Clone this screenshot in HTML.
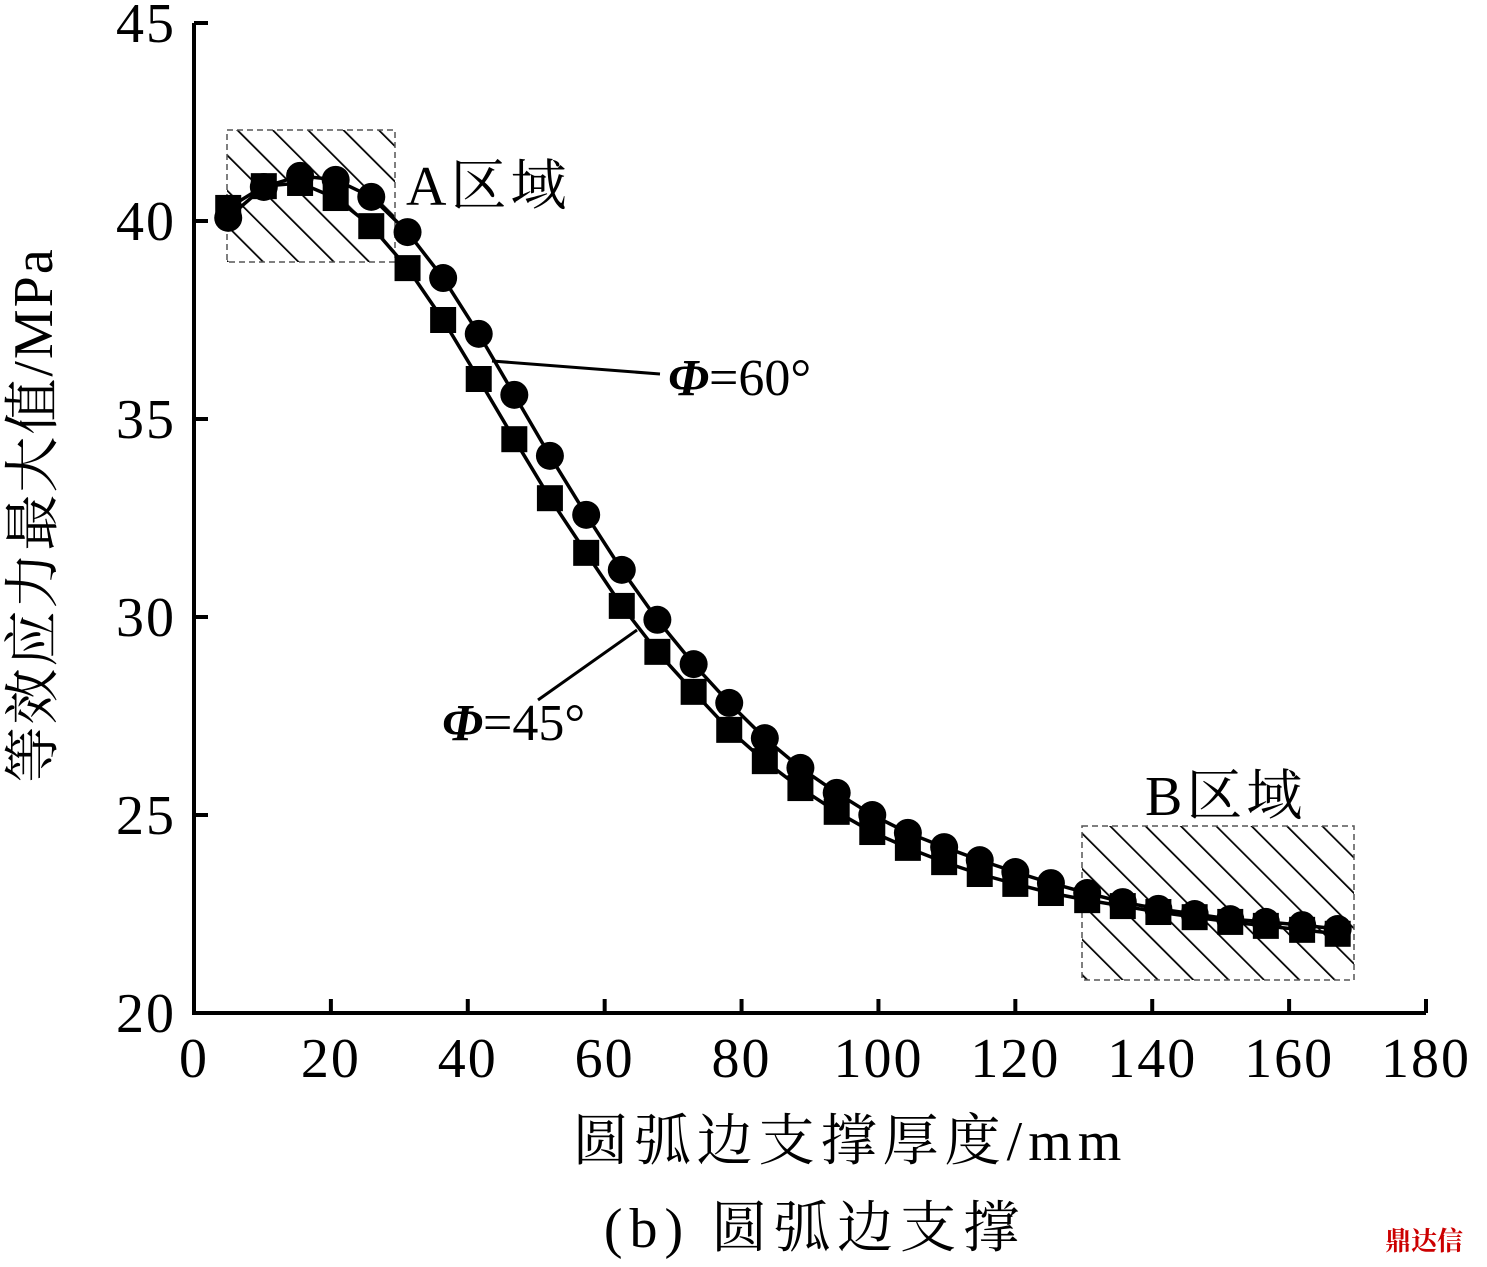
<!DOCTYPE html>
<html><head><meta charset="utf-8"><style>
body{margin:0;background:#fff}
svg text{font-family:"Liberation Serif","Noto Serif CJK SC",serif;fill:#000}
</style></head><body>
<svg id="c" width="1487" height="1262" viewBox="0 0 1487 1262">
<defs>
<pattern id="hatch" patternUnits="userSpaceOnUse" width="25" height="25" patternTransform="rotate(-45)">
<line x1="0" y1="0" x2="0" y2="25" stroke="#000" stroke-width="3.5"/>
</pattern>
</defs>
<g id="regions"></g>
<g id="axes"></g>
<g id="series"></g>
<text x="406" y="205" font-size="56" letter-spacing="4">A区域</text>
<text x="1145" y="815" font-size="56" letter-spacing="4">B区域</text>
<line x1="492" y1="361" x2="660" y2="374" stroke="#000" stroke-width="3"/>
<text x="668" y="395" font-size="52"><tspan font-style="italic" font-weight="bold">Φ</tspan>=60°</text>
<line x1="637" y1="630" x2="538" y2="700" stroke="#000" stroke-width="3"/>
<text x="442" y="740" font-size="52"><tspan font-style="italic" font-weight="bold">Φ</tspan>=45°</text>
<text x="850" y="1160" font-size="56" letter-spacing="6" text-anchor="middle">圆弧边支撑厚度/mm</text>
<text x="815" y="1247" font-size="56" letter-spacing="7" text-anchor="middle">(b) 圆弧边支撑</text>
<text transform="translate(52,515) rotate(-90)" font-size="56" letter-spacing="2" text-anchor="middle">等效应力最大值/MPa</text>
<text x="1385" y="1250" font-size="26" style="fill:#c00" font-weight="bold">鼎达信</text>
</svg>
<script>
const xs=[5,10.2,15.5,20.7,25.9,31.2,36.4,41.6,46.8,52.0,57.3,62.5,67.7,73.0,78.2,83.4,88.6,93.9,99.1,104.3,109.6,114.8,120.0,125.2,130.5,135.7,140.9,146.2,151.4,156.6,161.9,167.1];
const phi60=[40.08,40.86,41.14,41.04,40.61,39.72,38.56,37.15,35.61,34.07,32.58,31.19,29.93,28.81,27.83,26.94,26.19,25.56,25.0,24.55,24.19,23.86,23.56,23.28,23.03,22.80,22.63,22.5,22.37,22.3,22.22,22.12];
const phi45=[40.33,40.88,40.96,40.58,39.87,38.81,37.5,36.01,34.49,33.0,31.62,30.28,29.12,28.11,27.15,26.36,25.68,25.08,24.57,24.17,23.81,23.51,23.26,23.03,22.85,22.70,22.55,22.42,22.3,22.2,22.1,22.0];
const xTicks=[0,20,40,60,80,100,120,140,160,180];
const yTicks=[20,25,30,35,40,45];
const X=v=>194+v*(1232/180), Y=v=>1013-(v-20)*39.6;
const NS='http://www.w3.org/2000/svg';
function mk(t,a,p){const e=document.createElementNS(NS,t);for(const k in a)e.setAttribute(k,a[k]);p.appendChild(e);return e;}
const reg=document.getElementById('regions'),ax=document.getElementById('axes'),se=document.getElementById('series');
let r=mk('rect',{x:227,y:130,width:168,height:132,fill:'url(#hatch)',stroke:'#555','stroke-width':1.5,'stroke-dasharray':'6,4'},reg);


r=mk('rect',{x:1082,y:826,width:272,height:154,fill:'url(#hatch)',stroke:'#555','stroke-width':1.5,'stroke-dasharray':'6,4'},reg);


let l=mk('path',{d:`M${X(0)},${Y(45)} V${Y(20)} H${X(180)}`,fill:'none',stroke:'#000','stroke-width':4},ax);


xTicks.forEach(v=>{
 const t=mk('line',{x1:X(v),x2:X(v),y1:Y(20),y2:Y(20)-14,stroke:'#000','stroke-width':4},ax);
 
 
 const tx=mk('text',{x:X(v),y:1077,'font-size':56,'letter-spacing':2,'text-anchor':'middle'},ax);tx.textContent=v;
 
 
});
yTicks.forEach(v=>{
 const t=mk('line',{x1:X(0),x2:X(0)+14,y1:Y(v),y2:Y(v),stroke:'#000','stroke-width':4},ax);
 
 
 const tx=mk('text',{x:176,y:Y(v)+19,'font-size':56,'letter-spacing':2,'text-anchor':'end'},ax);tx.textContent=v;
 
 
});
function series(data,name,shape){
 const p=mk('polyline',{points:data.map((v,i)=>X(xs[i])+','+Y(v)).join(' '),fill:'none',stroke:'#000','stroke-width':3.5},se);
 
 
 data.forEach((v,i)=>{
  let m;
  if(shape==='c') m=mk('circle',{cx:X(xs[i]),cy:Y(v),r:14,fill:'#000'},se);
  else m=mk('rect',{x:X(xs[i])-13,y:Y(v)-13,width:26,height:26,fill:'#000'},se);
  
  
 });
}
series(phi45,'phi45','s');
series(phi60,'phi60','c');
</script>
</body></html>
